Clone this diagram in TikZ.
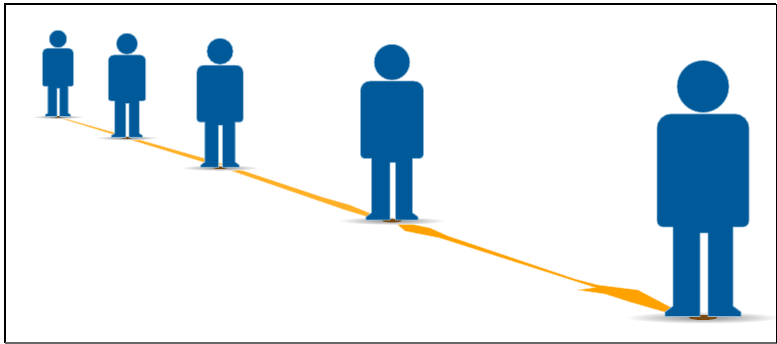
\documentclass[tikz,border=0pt]{standalone}
\definecolor{figblue}{HTML}{005A9A}
\definecolor{lineorange}{HTML}{FFA200}
\definecolor{footbrown}{HTML}{7A4A10}
\tikzset{
  personshape/.style={fill=figblue,draw=figblue!45,line width=0.8pt,line join=round},
  pathband/.style={fill=lineorange,draw=lineorange!40,line width=0.6pt},
  thinband/.style={fill=lineorange!85,draw=lineorange!30,line width=0.6pt},
  person/.pic={
    \shade[inner color=black!45,outer color=white] (0,0.5) ellipse (78 and 6);
    \fill[footbrown] (0,0.5) ellipse (14 and 2.5);
    \fill[personshape] (0,231.5) circle (26);
    \fill[personshape]
      (-32,204) -- (32,204) to[out=0,in=90] (46,190) -- (46,97)
      to[out=-90,in=0] (40,91) -- (30,91) -- (30,12) -- (38,6) -- (38,1.5) -- (5,1.5) -- (5,85) -- (-3,85)
      -- (-3,1.5) -- (-38,1.5) -- (-38,6) -- (-30,12) -- (-30,91) -- (-40,91)
      to[out=180,in=-90] (-46,97) -- (-46,190) to[out=90,in=180] cycle;
  }
}
\begin{document}
\begin{tikzpicture}[x=1pt,y=-1pt]
\useasboundingbox (0,0) rectangle (777,344);
\fill[white] (0,0) rectangle (777,344);
% orange path
\fill[thinband] (58,116.5) -- (205,158.5) -- (235,168) -- (322,197) -- (350,205) -- (372,214) -- (368,217) -- (345,210) -- (232,171) -- (58,117.5) -- cycle;
\fill[pathband] (392,220) -- (430,228) -- (448,236) -- (575,279) -- (598,285) -- (638,290) -- (672,308) -- (668,313) -- (630,302) -- (605,294) -- (578,290) -- (595,287.5) -- (440,238) -- (405,231) -- cycle;
\begin{scope}[y=1pt]
\pic[scale=0.337] at (58,-117) {person};
\pic[scale=0.407] at (127,-138) {person};
\pic[scale=0.504] at (220,-168) {person};
\pic[scale=0.686] at (392,-221) {person};
\pic at (703,-318) {person};
\end{scope}
% frame
\draw[black,line width=2pt] (5,343) -- (5,4.5) -- (776,4.5);
\draw[black!60,line width=1.2pt] (5,343) -- (777,343);
\draw[black,line width=1pt] (776.5,4.5) -- (776.5,343);
\end{tikzpicture}
\end{document}
